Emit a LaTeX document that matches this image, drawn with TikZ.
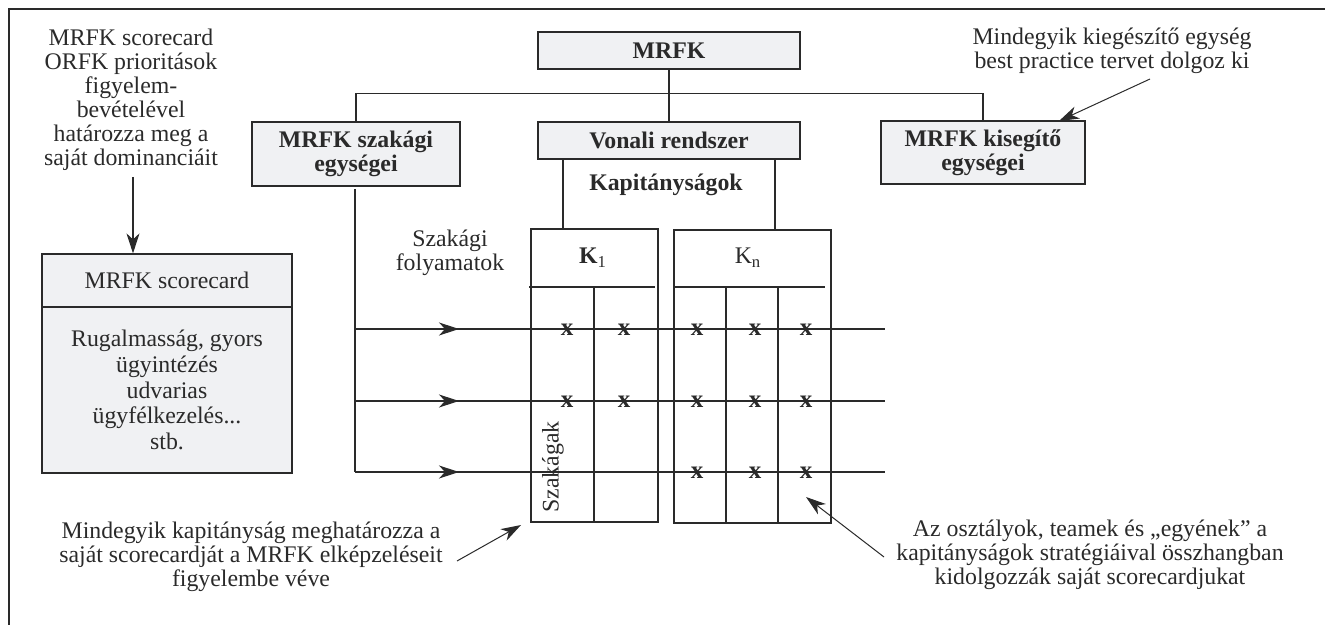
\documentclass[tikz,border=0pt]{standalone}
\usepackage{fontspec}
\setmainfont{Liberation Serif}
\usetikzlibrary{arrows.meta}
\definecolor{boxfill}{HTML}{F0F1F3}
\definecolor{ink}{HTML}{2A2A2A}
\tikzset{
  lbl/.style={font=\fontsize{11.9}{12}\selectfont, text=ink, inner sep=0pt, align=center},
  box/.style={lbl, draw=ink, fill=boxfill},
  kbox/.style={draw=ink, inner sep=0pt},
  arr/.style={-{Stealth[length=10pt,width=6.5pt,inset=3pt]}},
  xmark/.style={lbl, font=\fontsize{12.5}{12}\selectfont\bfseries},
}
\begin{document}
\begin{tikzpicture}[x=0.5pt,y=-0.5pt, line width=0.6pt, draw=ink]
\useasboundingbox (0,0) rectangle (1325,625);
% frame
\draw (9,625) -- (9,9) -- (1325,9);

% top hierarchy
\node[box, minimum width=131pt, minimum height=18.5pt] (mrfk) at (669,50.5) {\textbf{MRFK}};
\node[box, minimum width=104pt, minimum height=32pt] (szak) at (356,154) {\textbf{MRFK szakági}\\\textbf{egységei}};
\node[box, minimum width=131pt, minimum height=18.5pt] (vonali) at (669,140.5) {\textbf{Vonali rendszer}};
\node[box, minimum width=102pt, minimum height=31.5pt] (kiseg) at (983,152.5) {\textbf{MRFK kisegítő}\\\textbf{egységei}};
\draw (mrfk.south) -- (vonali.north);
\draw (szak.north) -- ++(0,-28) coordinate (busl) -| (kiseg.north);
\node[lbl] (kap) at (666,185) {\textbf{Kapitányságok}};

% left text and scorecard
\node[lbl] (lefttext) at (131,100) {MRFK scorecard\\ORFK prioritások\\figyelem-\\bevételével\\határozza meg a\\saját dominanciáit};
\node[box, minimum width=125pt, minimum height=26.5pt] (sctitle) at (167,280.5) {MRFK scorecard};
\node[box, minimum width=125pt, minimum height=83pt] (scbody) at (167,390) {Rugalmasság, gyors\\[0.8pt]ügyintézés\\[0.8pt]udvarias\\[0.8pt]ügyfélkezelés...\\[0.8pt]stb.};
\coordinate (la) at (133,177);
\draw[arr] (la) -- (la |- sctitle.north);

% captaincy boxes
\node[kbox, minimum width=63.5pt, minimum height=146.5pt] (k1) at (594.5,375.5) {};
\node[kbox, minimum width=78.5pt, minimum height=146.5pt] (kn) at (752.5,376.5) {};
\draw (563,159) -- (563,229);
\draw (775,159) -- (775,230);
\draw (529,287) -- (655,287);
\draw (594,287) -- (k1.south -| 594,0);
\draw (674,287) -- (825,287);
\draw (726,287) -- (726,523);
\draw (778,287) -- (778,523);
\node[lbl] (k1t) at (593,258) {\textbf{K}\textsubscript{1}};
\node[lbl] (knt) at (748,258) {K\textsubscript{n}};
\node[lbl, rotate=90] (szakagak) at (553,467) {Szakágak};

% process lines
\node[lbl] (folyt) at (450,253) {Szakági\\folyamatok};
\draw (355,189) -- (355,472);
\foreach \y in {329,401,472} {
  \draw (355,\y) -- (885,\y);
  \draw[arr] (420,\y) -- (459,\y);
}
\foreach \x in {567,624,697,755,806} {
  \node[xmark] at (\x,330) {x};
  \node[xmark] at (\x,402) {x};
}
\foreach \x in {697,755,806} {
  \node[xmark] at (\x,473) {x};
}

% annotations
\node[lbl] (toptext) at (1112,51) {Mindegyik kiegészítő egység\\best practice tervet dolgoz ki};
\coordinate (ta) at (1150,79);
\coordinate (tb) at (1059,121);
\draw[arr, line width=0.5pt] (ta) -- (tb);

\node[lbl] (bltext) at (251,557) {Mindegyik kapitányság meghatározza a\\saját scorecardját a MRFK elképzeléseit\\figyelembe véve};
\coordinate (ba) at (457,561);
\coordinate (bb) at (521,525);
\draw[arr, line width=0.5pt] (ba) -- (bb);

\node[lbl] (brtext) at (1090,555) {Az osztályok, teamek és „egyének” a\\kapitányságok stratégiáival összhangban\\kidolgozzák saját scorecardjukat};
\coordinate (ra) at (884,557);
\coordinate (rb) at (806,497);
\draw[arr, line width=0.5pt] (ra) -- (rb);
\end{tikzpicture}
\end{document}
